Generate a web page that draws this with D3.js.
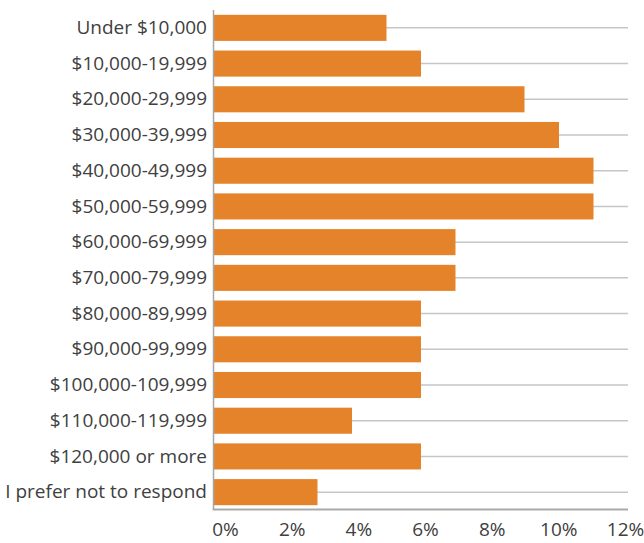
<!DOCTYPE html>
<html>
<head>
<meta charset="utf-8">
<script src="https://cdn.jsdelivr.net/npm/d3@7"></script>
<style>
  html, body { margin: 0; padding: 0; background: #fff; }
  svg { display: block; }
  text { font-family: "Open Sans", "Noto Sans", sans-serif; fill: #404040; }
</style>
</head>
<body>
<svg id="chart" width="644" height="543"></svg>
<script>
const categories = [
  "Under $10,000", "$10,000-19,999", "$20,000-29,999", "$30,000-39,999",
  "$40,000-49,999", "$50,000-59,999", "$60,000-69,999", "$70,000-79,999",
  "$80,000-89,999", "$90,000-99,999", "$100,000-109,999", "$110,000-119,999",
  "$120,000 or more", "I prefer not to respond"
];
const values = [5, 6, 9, 10, 11, 11, 7, 7, 6, 6, 6, 4, 6, 3];
const tickValues = [0, 2, 4, 6, 8, 10, 12];
const tickLabels = ["0%", "2%", "4%", "6%", "8%", "10%", "12%"];

(function () {
const svg = d3.select("#chart");
const mLeft = 214, mRight = 628, mTop = 10, mBottom = 510;

const x = d3.scaleLinear().domain([0, 12]).range([mLeft, mRight]);
const y = d3.scaleBand().domain(categories).range([mTop, mBottom]).paddingInner(0.27).paddingOuter(0.135);

// horizontal gridlines through band centers
svg.append("g").selectAll("line").data(categories).join("line")
  .attr("x1", mLeft).attr("x2", mRight)
  .attr("y1", d => y(d) + y.bandwidth() / 2)
  .attr("y2", d => y(d) + y.bandwidth() / 2)
  .attr("stroke", "#c6c6c6").attr("stroke-width", 1.5);

// bars
svg.append("g").selectAll("rect").data(values).join("rect")
  .attr("x", x(0))
  .attr("y", (d, i) => y(categories[i]))
  .attr("width", d => x(d) - x(0))
  .attr("height", y.bandwidth())
  .attr("fill", "#E5832A");

// axis lines
svg.append("line").attr("x1", mLeft - 0.5).attr("x2", mLeft - 0.5)
  .attr("y1", mTop).attr("y2", mBottom)
  .attr("stroke", "#a6a6a6").attr("stroke-width", 1.5);
svg.append("line").attr("x1", mLeft - 1.2).attr("x2", mRight)
  .attr("y1", mBottom - 0.5).attr("y2", mBottom - 0.5)
  .attr("stroke", "#aaaaaa").attr("stroke-width", 2);

// category labels
const yAxis = d3.axisLeft(y).tickSize(0).tickPadding(0);
const gy = svg.append("g").attr("transform", "translate(207,0)").call(yAxis);
gy.select(".domain").remove();
gy.selectAll("text").attr("font-size", 16.5).attr("fill", "#404040")
  .style("font-family", '"Open Sans", "Noto Sans", sans-serif');

// fit longest label width to ~202px
let maxW = 0;
gy.selectAll("text").each(function () { maxW = Math.max(maxW, this.getComputedTextLength()); });
const fs = maxW > 0 ? 16.5 * 202 / maxW : 16;
gy.selectAll("text").attr("font-size", fs);

// x tick labels
const xl = x.copy().range([225, 625]);
const xAxis = d3.axisBottom(xl).tickValues(tickValues).tickFormat((d, i) => tickLabels[i]).tickSize(0).tickPadding(0);
const gx = svg.append("g").attr("transform", "translate(0,522)").call(xAxis);
gx.select(".domain").remove();
gx.selectAll("text").attr("font-size", fs).attr("fill", "#404040")
  .style("font-family", '"Open Sans", "Noto Sans", sans-serif');
})();
</script>
</body>
</html>
